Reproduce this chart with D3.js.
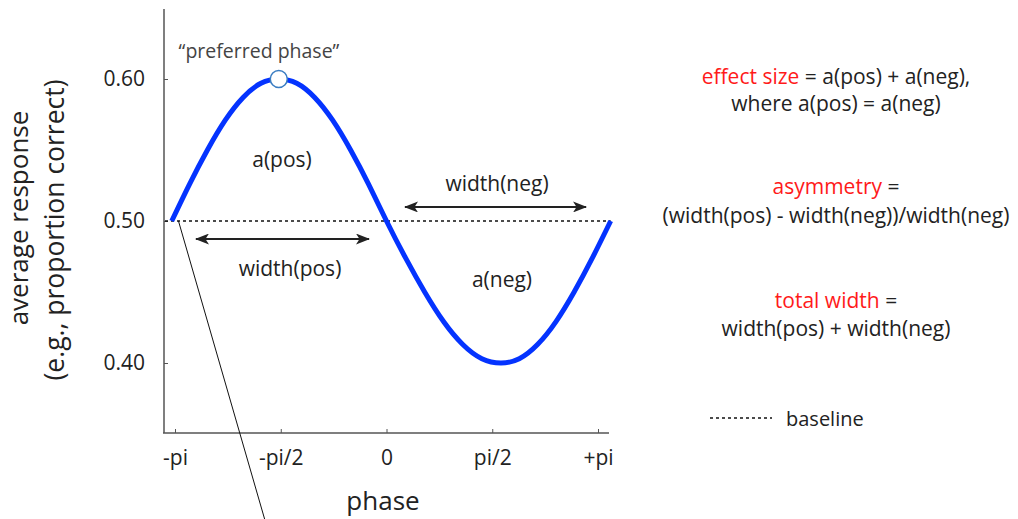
<!DOCTYPE html>
<html>
<head>
<meta charset="utf-8">
<script src="https://cdn.jsdelivr.net/npm/d3@7"></script>
<style>
  body { margin: 0; background: #fff; }
  text { font-family: "Open Sans", sans-serif; fill: #222; }
  .axis text { font-size: 21px; fill: #222; }
  .axis line, .axis path { stroke: #555; }
</style>
</head>
<body>
<div id="chart"></div>
<script>
// phase (radians) and average response
const phase = [-3.19, -2.925, -2.66, -2.395, -2.13, -1.865, -1.60,
    -1.333, -1.067, -0.8, -0.533, -0.267, 0.0,
    0.283, 0.567, 0.85, 1.133, 1.417, 1.70,
    1.972, 2.243, 2.515, 2.787, 3.058, 3.33];
const response = [0.500, 0.526, 0.550, 0.571, 0.587, 0.597, 0.600,
    0.597, 0.587, 0.571, 0.550, 0.526, 0.500,
    0.474, 0.450, 0.429, 0.413, 0.403, 0.400,
    0.403, 0.413, 0.429, 0.450, 0.474, 0.500];
const xTicks = [-Math.PI, -Math.PI / 2, 0, Math.PI / 2, Math.PI];
const xTickLabels = ["-pi", "-pi/2", "0", "pi/2", "+pi"];
const yTicks = [0.40, 0.50, 0.60];
const baselineValue = 0.5;
const preferredPhase = -1.60;
const peakValue = 0.600;

const w = 1018;
const h = 519;

const xScale = d3.scaleLinear().domain([-Math.PI, Math.PI]).range([175, 598]);
const yScale = d3.scaleLinear().domain([0.40, 0.60]).range([363, 79]);

const svg = d3.select("#chart")
    .append("svg")
    .attr("width", w)
    .attr("height", h);

// arrow head
svg.append("defs").append("marker")
    .attr("id", "head")
    .attr("viewBox", "0 0 14 11")
    .attr("refX", 13)
    .attr("refY", 5.5)
    .attr("markerWidth", 14)
    .attr("markerHeight", 11)
    .attr("markerUnits", "userSpaceOnUse")
    .attr("orient", "auto-start-reverse")
    .append("path")
    .attr("d", "M0,0 L14,5.5 L0,11 L3.5,5.5 Z")
    .attr("fill", "#222");

// axes
const xAxis = d3.axisBottom(xScale)
    .tickValues(xTicks)
    .tickFormat(function (d, i) { return xTickLabels[i]; })
    .tickSize(-4)
    .tickPadding(17);
const yAxis = d3.axisLeft(yScale)
    .tickValues(yTicks)
    .tickFormat(d3.format(".2f"))
    .tickSize(-4)
    .tickPadding(19);

const gx = svg.append("g")
    .attr("class", "axis")
    .attr("transform", "translate(0,433)")
    .call(xAxis);
gx.select(".domain").remove();
gx.append("line")
    .attr("x1", 163).attr("x2", 609)
    .attr("stroke", "#555").attr("stroke-width", 1.5);

const gy = svg.append("g")
    .attr("class", "axis")
    .attr("transform", "translate(164,0)")
    .call(yAxis);
gy.select(".domain").remove();
gy.append("line")
    .attr("y1", 9).attr("y2", 433)
    .attr("stroke", "#555").attr("stroke-width", 1.5);

// axis titles
svg.append("text")
    .attr("x", 383).attr("y", 510)
    .attr("text-anchor", "middle")
    .style("font-size", "26px")
    .text("phase");
svg.append("text")
    .attr("transform", "translate(28,218) rotate(-90)")
    .attr("text-anchor", "middle")
    .style("font-size", "26px")
    .text("average response");
svg.append("text")
    .attr("transform", "translate(64,230) rotate(-90)")
    .attr("text-anchor", "middle")
    .style("font-size", "26.5px")
    .text("(e.g., proportion correct)");

// baseline
svg.append("line")
    .attr("x1", 165).attr("x2", xScale(3.33))
    .attr("y1", yScale(baselineValue)).attr("y2", yScale(baselineValue))
    .attr("stroke", "#111")
    .attr("stroke-width", 1.3)
    .attr("stroke-dasharray", "3,3");

// thin pointer line
const p0 = [xScale(-3.09), yScale(baselineValue)];
svg.append("line")
    .attr("x1", p0[0]).attr("y1", p0[1])
    .attr("x2", p0[0] + (h - p0[1]) * 0.289).attr("y2", h)
    .attr("stroke", "#111")
    .attr("stroke-width", 1);

// sine curve
const line = d3.line()
    .x(function (d, i) { return xScale(phase[i]); })
    .y(function (d) { return yScale(d); })
    .curve(d3.curveNatural);
svg.append("path")
    .datum(response)
    .attr("d", line)
    .attr("fill", "none")
    .attr("stroke", "#0433ff")
    .attr("stroke-width", 5);

// preferred phase marker
svg.append("circle")
    .attr("cx", xScale(preferredPhase))
    .attr("cy", yScale(peakValue))
    .attr("r", 8.5)
    .attr("fill", "#fff")
    .attr("stroke", "#3a7dc2")
    .attr("stroke-width", 1.5);
svg.append("text")
    .attr("x", 259).attr("y", 58)
    .attr("text-anchor", "middle")
    .style("font-size", "19.5px")
    .style("fill", "#444")
    .text("\u201Cpreferred phase\u201D");

// width arrows
svg.append("line")
    .attr("x1", xScale(-2.83)).attr("x2", xScale(-0.26))
    .attr("y1", yScale(0.4873)).attr("y2", yScale(0.4873))
    .attr("stroke", "#222").attr("stroke-width", 2)
    .attr("marker-start", "url(#head)")
    .attr("marker-end", "url(#head)");
svg.append("line")
    .attr("x1", xScale(0.275)).attr("x2", xScale(2.964))
    .attr("y1", yScale(0.5099)).attr("y2", yScale(0.5099))
    .attr("stroke", "#222").attr("stroke-width", 2)
    .attr("marker-start", "url(#head)")
    .attr("marker-end", "url(#head)");

const labels = [
    { t: "a(pos)", x: 282, y: 167 },
    { t: "a(neg)", x: 502, y: 287 },
    { t: "width(pos)", x: 290, y: 276 },
    { t: "width(neg)", x: 497, y: 191 }
];
svg.selectAll(".lbl")
    .data(labels)
    .enter()
    .append("text")
    .attr("class", "lbl")
    .attr("x", function (d) { return d.x; })
    .attr("y", function (d) { return d.y; })
    .attr("text-anchor", "middle")
    .style("font-size", "21px")
    .text(function (d) { return d.t; });

// definitions on the right
const defs = [
    { red: "effect size", rest: " = a(pos) + a(neg),", y: 84 },
    { red: "", rest: "where a(pos) = a(neg)", y: 111 },
    { red: "asymmetry", rest: " =", y: 194 },
    { red: "", rest: "(width(pos) - width(neg))/width(neg)", y: 223 },
    { red: "total width", rest: " =", y: 308 },
    { red: "", rest: "width(pos) + width(neg)", y: 336 }
];
const dt = svg.selectAll(".def")
    .data(defs)
    .enter()
    .append("text")
    .attr("class", "def")
    .attr("x", 836)
    .attr("y", function (d) { return d.y; })
    .attr("text-anchor", "middle")
    .style("font-size", "21px");
dt.append("tspan")
    .style("fill", "#ff1a1a")
    .text(function (d) { return d.red; });
dt.append("tspan")
    .text(function (d) { return d.rest; });

// legend
svg.append("line")
    .attr("x1", 710).attr("x2", 772)
    .attr("y1", 418).attr("y2", 418)
    .attr("stroke", "#111")
    .attr("stroke-width", 1.3)
    .attr("stroke-dasharray", "3,3");
svg.append("text")
    .attr("x", 786).attr("y", 426)
    .style("font-size", "20px")
    .text("baseline");
</script>
</body>
</html>
